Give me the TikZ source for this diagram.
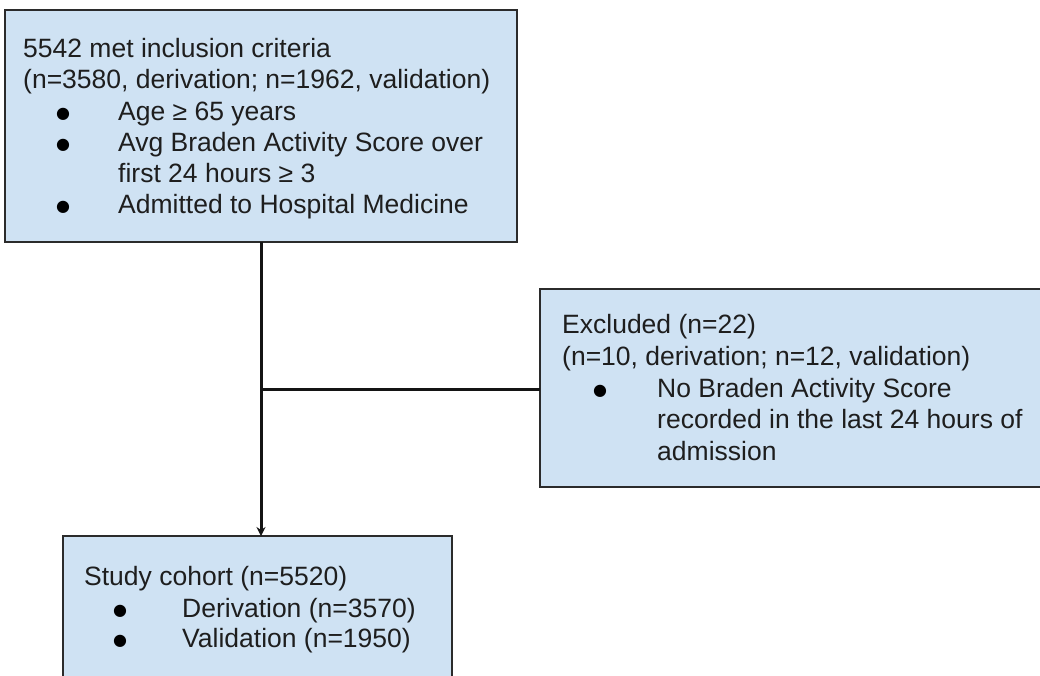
\documentclass[tikz,border=0pt]{standalone}
\usepackage{fontspec}
\setmainfont{Liberation Sans}
\newfontfamily\symfont{DejaVu Sans}
\usetikzlibrary{arrows.meta}
\definecolor{boxfill}{HTML}{CFE2F3}
\definecolor{boxline}{HTML}{2B2B2B}
\definecolor{inkcol}{HTML}{1E1E1E}
\begin{document}
\begin{tikzpicture}[x=1pt,y=-1pt,
  box/.style={draw=boxline, fill=boxfill, line width=2.4pt, inner sep=0pt, outer sep=0pt, anchor=north west},
  txt/.style={anchor=base west, inner sep=0pt, font=\fontsize{26.5}{31}\selectfont, text=inkcol},
  bul/.style={anchor=base, inner sep=0pt, font=\symfont\fontsize{16}{18}\selectfont, text=black, yshift=2pt},
  conn/.style={draw=black!92, line width=3pt}]
\useasboundingbox (0,0) rectangle (1040,675);
\fill[white] (0,0) rectangle (1040,675);
\clip (0,0) rectangle (1040,675);
% boxes
\node[box, minimum width=512pt, minimum height=232pt] (incl) at (5,10) {};
\node[box, minimum width=520pt, minimum height=198pt] (excl) at (540,289) {};
\node[box, minimum width=389pt, minimum height=160pt] (cohort) at (63,536) {};
% connectors
\coordinate (j) at (261,389);
\draw[conn] (incl.south) -- (j);
\draw[conn] (j) -- (j -| excl.west);
\draw[conn, -{Stealth[length=9pt,width=9pt]}] (j) -- (j |- cohort.north);
% top box text
\node[txt] (t1) at (23,57) {5542 met inclusion criteria};
\node[txt] (t2) at (23,88) {(n=3580, derivation; n=1962, validation)};
\node[bul] (b1) at (63,120) {●};
\node[txt] (t3) at (118,120) {Age ≥ 65 years};
\node[bul] (b2) at (63,151) {●};
\node[txt] (t4) at (118,151) {Avg Braden Activity Score over};
\node[txt] (t5) at (118,182) {first 24 hours ≥ 3};
\node[bul] (b3) at (63,213) {●};
\node[txt] (t6) at (118,213) {Admitted to Hospital Medicine};
% excluded text
\node[txt] (e1) at (562,333) {Excluded (n=22)};
\node[txt] (e2) at (562,365) {(n=10, derivation; n=12, validation)};
\node[bul] (b4) at (600,397) {●};
\node[txt] (e3) at (657,397) {No Braden Activity Score};
\node[txt] (e4) at (657,428) {recorded in the last 24 hours of};
\node[txt] (e5) at (657,460) {admission};
% cohort text
\node[txt] (c1) at (84,585) {Study cohort (n=5520)};
\node[bul] (b5) at (120,617) {●};
\node[txt] (c2) at (182,617) {Derivation (n=3570)};
\node[bul] (b6) at (120,647) {●};
\node[txt] (c3) at (182,647) {Validation (n=1950)};
\end{tikzpicture}
\end{document}
